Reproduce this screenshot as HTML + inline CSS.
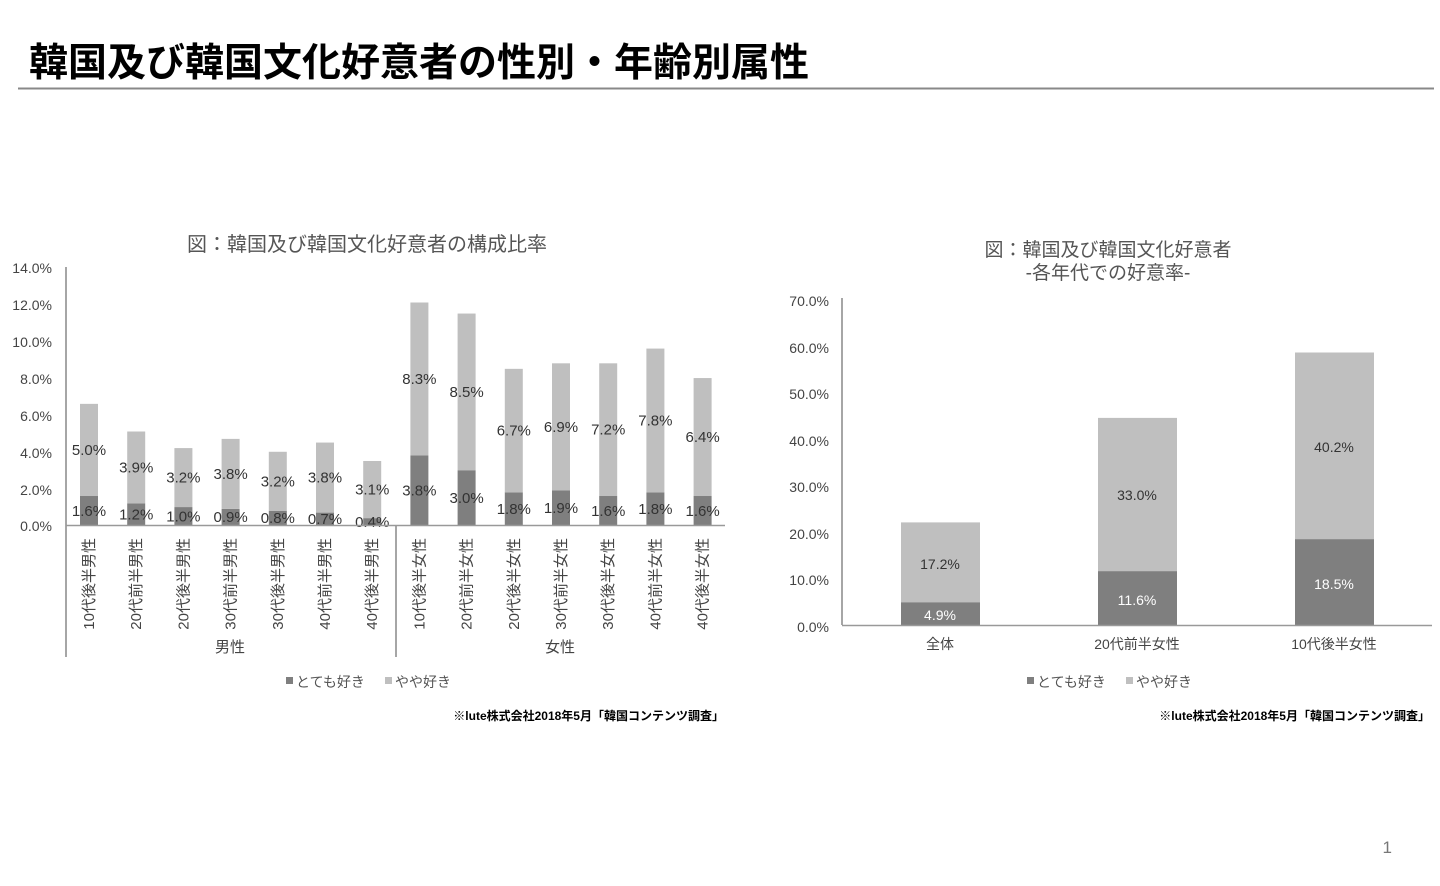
<!DOCTYPE html>
<html><head><meta charset="utf-8"><style>
html,body{margin:0;padding:0;background:#fff;}
svg{display:block;font-family:"Liberation Sans","Noto Sans CJK JP",sans-serif;}
</style></head><body>
<svg width="1440" height="886" viewBox="0 0 1440 886" xmlns="http://www.w3.org/2000/svg">
<text x="29" y="76" font-size="39" font-weight="bold" fill="#000">韓国及び韓国文化好意者の性別・年齢別属性</text>
<line x1="18" y1="88.5" x2="1434" y2="88.5" stroke="#888" stroke-width="2"/>

<!-- Left chart -->
<text x="367" y="251" font-size="20" fill="#555" text-anchor="middle">図：韓国及び韓国文化好意者の構成比率</text>
<g font-size="14" fill="#444" text-anchor="end">
<text x="52" y="273">14.0%</text><text x="52" y="310">12.0%</text><text x="52" y="347">10.0%</text>
<text x="52" y="384">8.0%</text><text x="52" y="421">6.0%</text><text x="52" y="458">4.0%</text>
<text x="52" y="495">2.0%</text><text x="52" y="531">0.0%</text>
</g>
<g id="bars"></g>
<line x1="66" y1="267" x2="66" y2="657" stroke="#888" stroke-width="1.5"/>
<line x1="396" y1="525" x2="396" y2="657" stroke="#888" stroke-width="1.5"/>
<line x1="66" y1="525.5" x2="725" y2="525.5" stroke="#999" stroke-width="1.5"/>
<text x="230" y="652" font-size="15" fill="#444" text-anchor="middle">男性</text>
<text x="560" y="652" font-size="15" fill="#444" text-anchor="middle">女性</text>
<rect x="286" y="677" width="7" height="7" fill="#7f7f7f"/><text x="296" y="687" font-size="14" fill="#555">とても好き</text>
<rect x="385" y="677" width="7" height="7" fill="#bfbfbf"/><text x="395" y="687" font-size="14" fill="#555">やや好き</text>
<text x="724" y="720" font-size="12" font-weight="bold" fill="#000" text-anchor="end">※lute株式会社2018年5月「韓国コンテンツ調査」</text>

<!-- Right chart -->
<text x="1108" y="256" font-size="19" fill="#555" text-anchor="middle">図：韓国及び韓国文化好意者</text>
<text x="1108" y="279" font-size="19" fill="#555" text-anchor="middle">-各年代での好意率-</text>
<g font-size="14" fill="#444" text-anchor="end">
<text x="829" y="306">70.0%</text><text x="829" y="353">60.0%</text><text x="829" y="399">50.0%</text>
<text x="829" y="446">40.0%</text><text x="829" y="492">30.0%</text><text x="829" y="539">20.0%</text>
<text x="829" y="585">10.0%</text><text x="829" y="632">0.0%</text>
</g>
<rect x="901" y="602.2" width="79" height="22.8" fill="#7f7f7f"/>
<rect x="901" y="522.4" width="79" height="79.8" fill="#bfbfbf"/>
<rect x="1098" y="571.1" width="79" height="53.9" fill="#7f7f7f"/>
<rect x="1098" y="417.9" width="79" height="153.2" fill="#bfbfbf"/>
<rect x="1295" y="539.1" width="79" height="85.9" fill="#7f7f7f"/>
<rect x="1295" y="352.5" width="79" height="186.6" fill="#bfbfbf"/>
<line x1="842" y1="298" x2="842" y2="625" stroke="#888" stroke-width="1.5"/>
<line x1="842" y1="625.5" x2="1432" y2="625.5" stroke="#999" stroke-width="1.5"/>
<g font-size="14" text-anchor="middle">
<text x="940" y="569" fill="#333">17.2%</text><text x="940" y="620" fill="#fff">4.9%</text>
<text x="1137" y="500" fill="#333">33.0%</text><text x="1137" y="605" fill="#fff">11.6%</text>
<text x="1334" y="452" fill="#333">40.2%</text><text x="1334" y="589" fill="#fff">18.5%</text>
<text x="940" y="649" fill="#444">全体</text>
<text x="1137" y="649" fill="#444">20代前半女性</text>
<text x="1334" y="649" fill="#444">10代後半女性</text>
</g>
<rect x="1027" y="677" width="7" height="7" fill="#7f7f7f"/><text x="1037" y="687" font-size="14" fill="#555">とても好き</text>
<rect x="1126" y="677" width="7" height="7" fill="#bfbfbf"/><text x="1136" y="687" font-size="14" fill="#555">やや好き</text>
<text x="1430" y="720" font-size="12" font-weight="bold" fill="#000" text-anchor="end">※lute株式会社2018年5月「韓国コンテンツ調査」</text>

<text x="1392" y="853" font-size="17" fill="#777" text-anchor="end">1</text>
</svg>
<script>
(function(){
var dark=[1.6,1.2,1.0,0.9,0.8,0.7,0.4,3.8,3.0,1.8,1.9,1.6,1.8,1.6];
var light=[5.0,3.9,3.2,3.8,3.2,3.8,3.1,8.3,8.5,6.7,6.9,7.2,7.8,6.4];
var names=["10代後半男性","20代前半男性","20代後半男性","30代前半男性","30代後半男性","40代前半男性","40代後半男性","10代後半女性","20代前半女性","20代後半女性","30代前半女性","30代後半女性","40代前半女性","40代後半女性"];
var s=18.43,base=525.5,g=document.getElementById('bars'),h='';
for(var i=0;i<14;i++){
 var cx=89+i*47.2, hd=dark[i]*s, hl=light[i]*s;
 var yd=base-hd, yl=yd-hl;
 h+='<rect x="'+(cx-9)+'" y="'+yd+'" width="18" height="'+hd+'" fill="#7f7f7f"/>';
 h+='<rect x="'+(cx-9)+'" y="'+yl+'" width="18" height="'+hl+'" fill="#bfbfbf"/>';
 h+='<text x="'+cx+'" y="'+(yl+hl/2+5)+'" font-size="15" fill="#333" text-anchor="middle">'+light[i].toFixed(1)+'%</text>';
 h+='<text x="'+cx+'" y="'+(Math.min(yd+hd/2+5,base+5))+'" font-size="15" fill="#333" text-anchor="middle">'+dark[i].toFixed(1)+'%</text>';
 h+='<text transform="translate('+(cx+5)+',538) rotate(-90)" font-size="15" fill="#444" text-anchor="end">'+names[i]+'</text>';
}
g.innerHTML=h;
})();
</script>
</body></html>
